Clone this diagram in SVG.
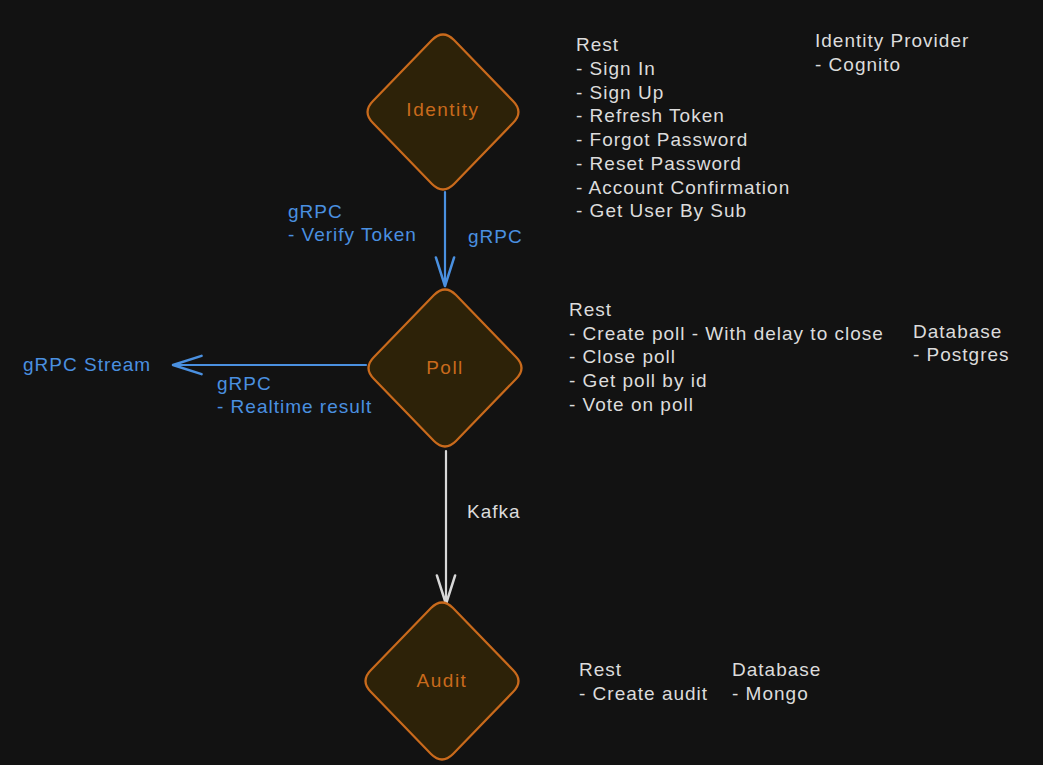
<svg xmlns="http://www.w3.org/2000/svg" width="1043" height="765" viewBox="0 0 1043 765">
<style>
.bg{fill:#121212}
.dia{fill:#2d2208;stroke:#c96a1c;stroke-width:2.2;stroke-linejoin:round}
.nl{font-family:"Liberation Sans","DejaVu Sans",sans-serif;font-size:19px;letter-spacing:1.5px;fill:#c96a1c;text-anchor:middle}
.t{font-family:"Liberation Sans","DejaVu Sans",sans-serif;font-size:19px;letter-spacing:1px;fill:#dcdcdc}
.b{font-family:"Liberation Sans","DejaVu Sans",sans-serif;font-size:19px;letter-spacing:1px;fill:#4a90e0}
.cb{fill:none;stroke:#4a90e0;stroke-width:2.2;stroke-linecap:round}
.cw{fill:none;stroke:#d8d8d8;stroke-width:2.2;stroke-linecap:round}
</style>
<defs>
<marker id="ab" markerUnits="userSpaceOnUse" markerWidth="40" markerHeight="40" refX="0" refY="0" viewBox="-30 -15 35 30" orient="auto" overflow="visible">
<path d="M-25 -8 L0 0 L-25 8" fill="none" stroke="#4a90e0" stroke-width="2.2" stroke-linecap="round" stroke-linejoin="round"/>
</marker>
<marker id="aw" markerUnits="userSpaceOnUse" markerWidth="40" markerHeight="40" refX="0" refY="0" viewBox="-30 -15 35 30" orient="auto" overflow="visible">
<path d="M-25 -8 L0 0 L-25 8" fill="none" stroke="#d8d8d8" stroke-width="2.2" stroke-linecap="round" stroke-linejoin="round"/>
</marker>
</defs>
<rect class="bg" x="0" y="0" width="1043" height="765"/>

<g id="connectors">
<path class="cb" d="M445 192 L445 286" marker-end="url(#ab)"/>
<path class="cb" d="M366 365 L173 365" marker-end="url(#ab)"/>
<path class="cw" d="M446 451 L446 604" marker-end="url(#aw)"/>
<text class="b" x="288" y="218">gRPC</text>
<text class="b" x="288" y="241">- Verify Token</text>
<text class="b" x="468" y="243">gRPC</text>
<text class="b" x="23" y="371">gRPC Stream</text>
<text class="b" x="217" y="390">gRPC</text>
<text class="b" x="217" y="413">- Realtime result</text>
<text class="t" x="467" y="518">Kafka</text>
</g>

<g id="identity">
<path class="dia" d="M432 40 Q443 29 454 40 L513 101 Q524 112 513 123 L454 184 Q443 195 432 184 L373 123 Q362 112 373 101 Z"/>
<text class="nl" x="443" y="116">Identity</text>
</g>

<g id="poll">
<path class="dia" d="M434 295 Q445 284 456 295 L516 357 Q527 368 516 379 L456 441 Q445 452 434 441 L374 379 Q363 368 374 357 Z"/>
<text class="nl" x="445" y="374">Poll</text>
</g>

<g id="audit">
<path class="dia" d="M431 608 Q442 597 453 608 L513 670 Q524 681 513 692 L453 754 Q442 765 431 754 L371 692 Q360 681 371 670 Z"/>
<text class="nl" x="442" y="687">Audit</text>
</g>

<g id="identity-notes">
<text class="t" x="576" y="51">Rest</text>
<text class="t" x="576" y="75">- Sign In</text>
<text class="t" x="576" y="99">- Sign Up</text>
<text class="t" x="576" y="122">- Refresh Token</text>
<text class="t" x="576" y="146">- Forgot Password</text>
<text class="t" x="576" y="170">- Reset Password</text>
<text class="t" x="576" y="194">- Account Confirmation</text>
<text class="t" x="576" y="217">- Get User By Sub</text>
<text class="t" x="815" y="47">Identity Provider</text>
<text class="t" x="815" y="71">- Cognito</text>
</g>

<g id="poll-notes">
<text class="t" x="569" y="316">Rest</text>
<text class="t" x="569" y="340">- Create poll - With delay to close</text>
<text class="t" x="569" y="363">- Close poll</text>
<text class="t" x="569" y="387">- Get poll by id</text>
<text class="t" x="569" y="411">- Vote on poll</text>
<text class="t" x="913" y="338">Database</text>
<text class="t" x="913" y="361">- Postgres</text>
</g>

<g id="audit-notes">
<text class="t" x="579" y="676">Rest</text>
<text class="t" x="579" y="700">- Create audit</text>
<text class="t" x="732" y="676">Database</text>
<text class="t" x="732" y="700">- Mongo</text>
</g>
</svg>
